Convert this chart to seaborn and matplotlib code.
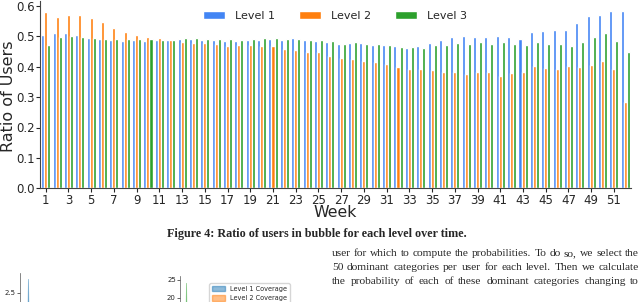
import matplotlib
matplotlib.use("Agg")
import matplotlib.pyplot as plt
import matplotlib.patches as mpatches
import numpy as np
import pandas as pd
import seaborn as sns

weeks = list(range(1, 53))
level1 = [0.504, 0.510, 0.511, 0.504, 0.495, 0.491, 0.487, 0.486, 0.488, 0.485,
          0.488, 0.488, 0.491, 0.491, 0.488, 0.487, 0.486, 0.484, 0.489, 0.489,
          0.492, 0.489, 0.493, 0.488, 0.484, 0.480, 0.476, 0.477, 0.478, 0.471,
          0.472, 0.467, 0.461, 0.468, 0.478, 0.488, 0.497, 0.500, 0.498, 0.497,
          0.501, 0.497, 0.490, 0.514, 0.517, 0.520, 0.522, 0.544, 0.567, 0.569,
          0.583, 0.583]
level2 = [0.579, 0.565, 0.570, 0.570, 0.561, 0.546, 0.526, 0.513, 0.505, 0.498,
          0.493, 0.488, 0.482, 0.479, 0.479, 0.476, 0.469, 0.470, 0.470, 0.468,
          0.467, 0.458, 0.456, 0.448, 0.449, 0.436, 0.430, 0.424, 0.419, 0.415,
          0.410, 0.399, 0.393, 0.392, 0.390, 0.382, 0.383, 0.376, 0.383, 0.381,
          0.370, 0.379, 0.381, 0.402, 0.396, 0.393, 0.402, 0.399, 0.406, 0.418,
          0.393, 0.283]
level3 = [0.471, 0.497, 0.502, 0.497, 0.493, 0.491, 0.491, 0.491, 0.491, 0.490,
          0.489, 0.489, 0.494, 0.493, 0.491, 0.491, 0.490, 0.489, 0.491, 0.495,
          0.494, 0.492, 0.492, 0.488, 0.487, 0.483, 0.476, 0.480, 0.476, 0.475,
          0.470, 0.464, 0.464, 0.462, 0.471, 0.472, 0.479, 0.474, 0.481, 0.476,
          0.481, 0.474, 0.470, 0.482, 0.474, 0.474, 0.468, 0.481, 0.498, 0.510,
          0.485, 0.447]
levels = ["Level 1", "Level 2", "Level 3"]
colors = ["#4285F4", "#FF7F0E", "#2CA02C"]
xtick_labels = [str(w) for w in weeks if w % 2 == 1]
yticks = [0.0, 0.1, 0.2, 0.3, 0.4, 0.5, 0.6]

caption = "Figure 4: Ratio of users in bubble for each level over time."
body_lines = [
    "user for which to compute the probabilities. To do so, we select the",
    "50 dominant categories per user for each level. Then we calculate",
    "the probability of each of these dominant categories changing to",
]

# fragments of the next figure (partially visible at the bottom)
frag1_x = [4.0, 5.0, 5.7, 6.4, 7.5]
frag1_y = [0.0, 1.2, 2.83, 1.2, 0.0]
frag2_x = [3.0, 3.8, 4.3, 4.8, 5.6]
frag2_y = [0.0, 10.0, 24.2, 10.0, 0.0]
frag_legend = ["Level 1 Coverage", "Level 2 Coverage", "Level 3 Coverage"]
frag_colors = ["#1f77b4", "#ff7f0e", "#2ca02c"]

df = pd.DataFrame({
    "Week": weeks * 3,
    "Ratio": level1 + level2 + level3,
    "Level": [lv for lv in levels for _ in weeks],
})

sns.set_style("ticks")
plt.rcParams["font.family"] = ["DejaVu Sans"]

W, H = 640, 302
fig = plt.figure(figsize=(W / 100, H / 100), dpi=100)
y0 = 188.3
ytop = 0.615
ax = fig.add_axes([40 / W, 1 - y0 / H, 591 / W, ytop * 304 / H])
sns.barplot(data=df, x="Week", y="Ratio", hue="Level", palette=colors,
            ax=ax, width=0.80, gap=0, saturation=1, dodge=True)
ax.set_xlim(-0.5, 51.5)
ax.set_ylim(0, ytop)
ax.set_xticks([w - 1 for w in weeks if w % 2 == 1])
ax.set_xticklabels(xtick_labels)
ax.set_yticks(yticks)
ax.set_yticklabels([f"{v:.1f}" for v in yticks])
ax.tick_params(labelsize=8.5, length=3, width=0.8, pad=1)
ax.set_xlabel("Week", fontsize=11.3, labelpad=-1)
ax.set_ylabel("Ratio of Users", fontsize=11.5)
ax.yaxis.set_label_coords(-0.0405, (188.3 - 96) / 187.0)
for s in ["top", "right"]:
    ax.spines[s].set_visible(False)
for s in ["left", "bottom"]:
    ax.spines[s].set_color("#444444")
    ax.spines[s].set_linewidth(0.8)

handles, labels = ax.get_legend_handles_labels()
ax.get_legend().remove()
fig.legend(handles, labels, loc="center", bbox_to_anchor=(0.5235, 0.947),
           bbox_transform=fig.transFigure, ncol=3, frameon=False,
           fontsize=8, handlelength=2.0, handleheight=0.65,
           handletextpad=0.9, columnspacing=2.15)

fig.text(316.5 / W, 1 - 234 / H, caption, ha="center", va="center",
         family="Liberation Serif", fontweight="bold", fontsize=8.7)

renderer = fig.canvas.get_renderer()


def justified(line, x0, x1, y, **kw):
    words = line.split()
    arts = [fig.text(0, y, wd, ha="left", va="baseline", **kw) for wd in words]
    widths = [a.get_window_extent(renderer).width for a in arts]
    gap = (x1 - x0 - sum(widths)) / (len(words) - 1)
    x = x0
    for a, wdt in zip(arts, widths):
        a.set_x(x / W)
        x += wdt + gap


for i, line in enumerate(body_lines):
    justified(line, 332, 639, 1 - (256 + 14 * i) / H,
              family="Liberation Serif", fontsize=8.2)

# fragment 1
ax3 = fig.add_axes([20 / W, 1 - 400 / H, 140 / W, 127 / H])
ax3.fill_between(frag1_x, frag1_y, color=frag_colors[0], alpha=0.5, lw=0.6,
                 edgecolor=frag_colors[0])
ax3.set_xlim(0, 100)
ax3.set_ylim(0, 2.967)
ax3.set_yticks([2.5])
ax3.set_yticklabels(["2.5"])
ax3.set_xticks([])
ax3.tick_params(labelsize=5, length=2, width=0.5, pad=1)
for s in ["top", "right", "bottom"]:
    ax3.spines[s].set_visible(False)
ax3.spines["left"].set_linewidth(0.5)
ax3.spines["left"].set_color("#555555")

# fragment 2
ax4 = fig.add_axes([180 / W, 1 - 370 / H, 140 / W, 94 / H])
ax4.fill_between(frag2_x, frag2_y, color=frag_colors[2], alpha=0.5, lw=0.6,
                 edgecolor=frag_colors[2])
ax4.set_xlim(0, 100)
ax4.set_ylim(0, 26.1)
ax4.set_yticks([0, 5, 10, 15, 20, 25])
ax4.set_xticks([])
ax4.tick_params(labelsize=5, length=2, width=0.5, pad=1)
for s in ["top", "right", "bottom"]:
    ax4.spines[s].set_visible(False)
ax4.spines["left"].set_linewidth(0.5)
ax4.spines["left"].set_color("#555555")
fh = [mpatches.Patch(facecolor=c, alpha=0.5, edgecolor=c) for c in frag_colors]
ax4.legend(fh, frag_legend, loc="upper left",
           bbox_to_anchor=(206 / W, 1 - 280 / H), bbox_transform=fig.transFigure,
           fontsize=4.7, frameon=True, handlelength=2.0, handleheight=0.9,
           borderpad=0.4, labelspacing=0.5)

fig.savefig("out.png", dpi=100)
